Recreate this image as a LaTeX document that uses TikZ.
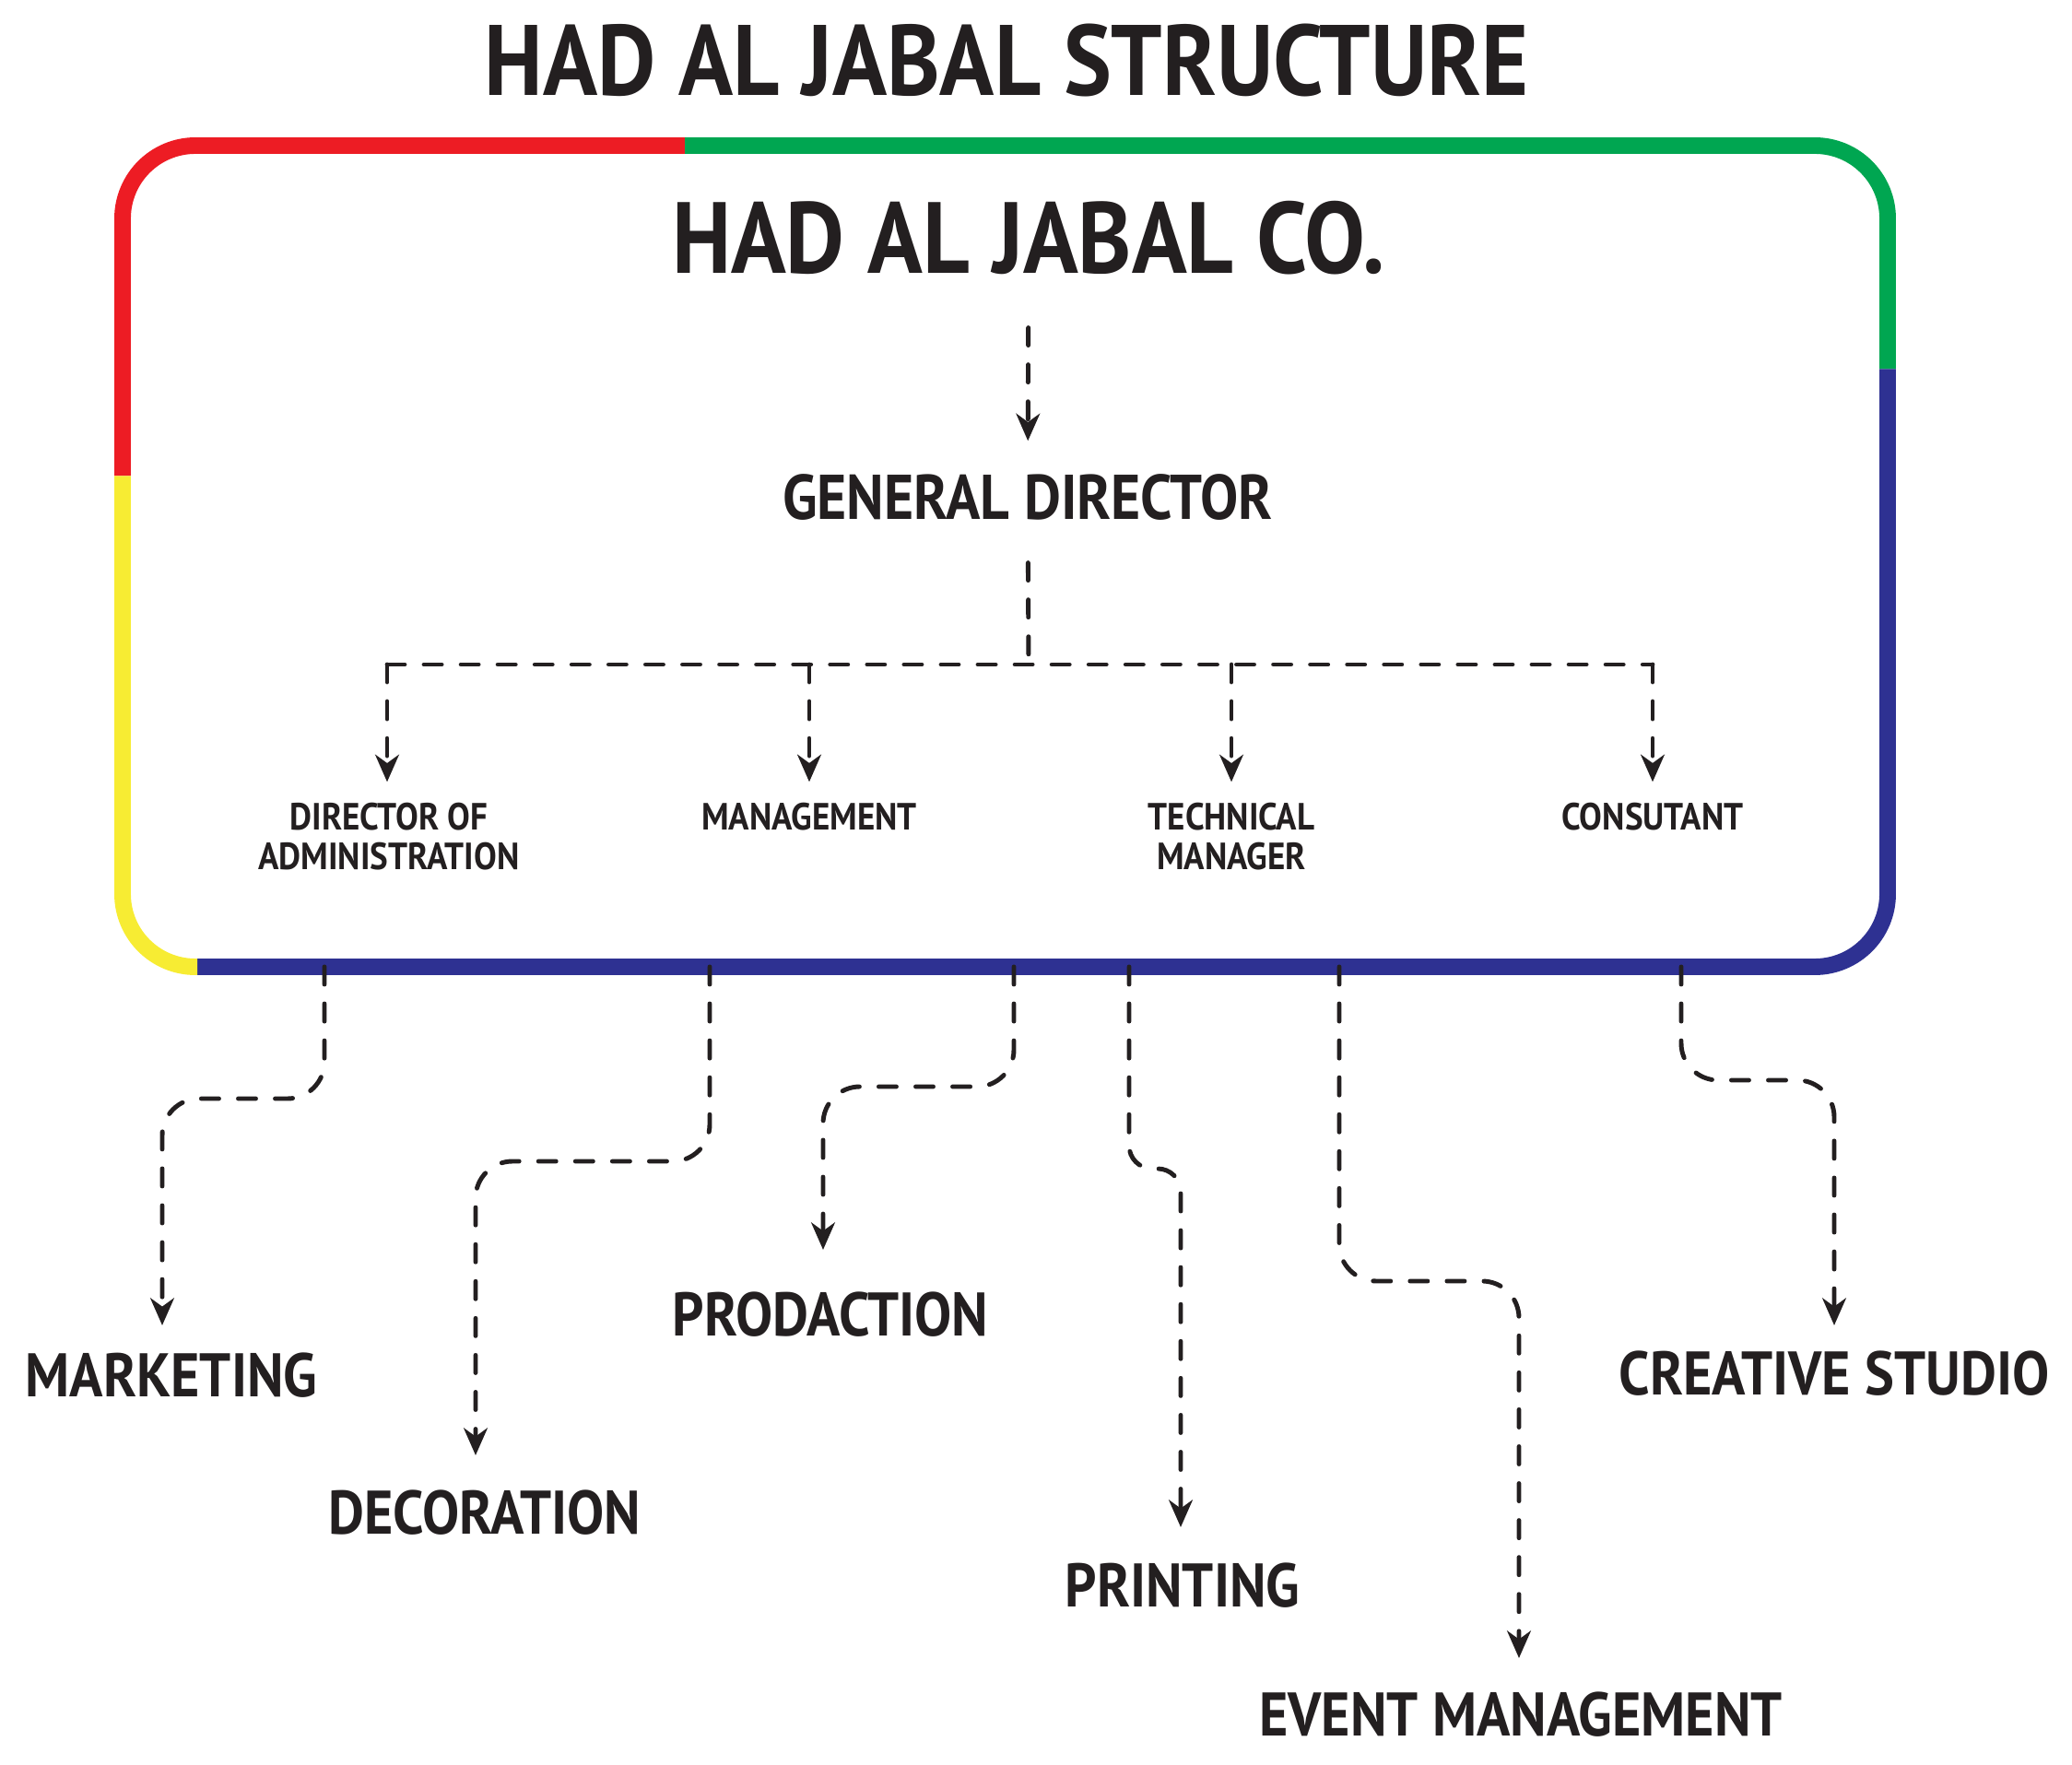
\documentclass[tikz,border=0pt]{standalone}
\usepackage{fontspec}
\setmainfont{PT Sans}[FakeStretch=0.9]
\usetikzlibrary{arrows.meta, positioning}

\definecolor{hadred}{HTML}{ED1C24}
\definecolor{hadgreen}{HTML}{00A651}
\definecolor{hadblue}{HTML}{2E3192}
\definecolor{hadyellow}{HTML}{F7EC33}
\definecolor{ink}{HTML}{231F20}

\tikzset{
  frame/.style={line width=5.1pt, rounded corners=0.79cm},
  link/.style={ink, line width=1.4pt, line cap=round, dash pattern=on 5.4pt off 6pt, rounded corners=0.4cm},
  tip/.style={-{Stealth[length=8.4pt,width=7.3pt,inset=2.6pt]}},
  head/.style={font=\bfseries\fontsize{30.9}{36}\selectfont, text=ink, inner sep=0pt},
  boss/.style={font=\bfseries\fontsize{19.5}{23}\selectfont, text=ink, inner sep=0pt},
  unit/.style={font=\bfseries\fontsize{11.7}{12.2}\selectfont, text=ink, inner sep=0pt, align=center},
  dept/.style={font=\bfseries\fontsize{19}{22}\selectfont, text=ink, inner sep=0pt}
}

\begin{document}
\begin{tikzpicture}
\useasboundingbox (0,0) rectangle (22.48,-19.15);
%frame
\draw[frame,hadred] (1.33,-5.165) -- (1.33,-1.58) -- (7.43,-1.58);
\draw[frame,hadgreen] (7.43,-1.58) -- (20.48,-1.58) -- (20.48,-4.005);
\draw[frame,hadblue] (20.48,-4.005) -- (20.48,-10.49) -- (2.14,-10.49);
\draw[frame,hadyellow] (1.33,-5.165) -- (1.33,-10.49) -- (2.14,-10.49);
%titles
\node[head] (title) at (10.92,-0.66) {HAD AL JABAL STRUCTURE};
\node[head,font=\bfseries\fontsize{31.2}{36}\selectfont] (co) at (11.16,-2.58) {HAD AL JABAL CO.};
\node[boss] (gd) at (11.15,-5.40) {GENERAL DIRECTOR};
%second row
\node[unit] (dir) at (4.22,-9.075) {DIRECTOR OF\\ADMINISTRATION};
\node[unit] (mgt) at (8.78,-8.86) {MANAGEMENT};
\node[unit] (tech) at (13.36,-9.075) {TECHNICAL\\MANAGER};
\node[unit] (cons) at (17.93,-8.86) {CONSUTANT};
\coordinate (split) at (11.16,-7.21);
\coordinate (hl) at (4.20,-7.21);
\coordinate (hr) at (17.93,-7.21);
\draw[link,tip,shorten <=0.57cm,shorten >=0.36cm] (co) -- (gd);
\draw[link,shorten <=0.45cm] (gd) -- (split);
\draw[link] (hl) -- (hr);
\draw[link,tip,shorten >=0.22cm] (hl) -- (hl |- dir.north);
\draw[link,tip,shorten >=0.22cm] (mgt |- hl) -- (mgt);
\draw[link,tip,shorten >=0.22cm] (tech |- hl) -- (tech);
\draw[link,tip,shorten >=0.22cm] (cons |- hl) -- (cons);
%departments
\node[dept] (mk) at (1.86,-14.92) {MARKETING};
\node[dept] (dec) at (5.26,-16.41) {DECORATION};
\node[dept] (prod) at (9.01,-14.26) {PRODACTION};
\node[dept] (prn) at (12.83,-17.20) {PRINTING};
\node[dept] (evt) at (16.50,-18.60) {EVENT MANAGEMENT};
\node[dept] (cre) at (19.90,-14.90) {CREATIVE STUDIO};
\coordinate (b1) at (3.52,-10.49);
\coordinate (b2) at (7.70,-10.49);
\coordinate (b3) at (11.00,-10.49);
\coordinate (b4) at (12.25,-10.49);
\coordinate (b5) at (14.53,-10.49);
\coordinate (b6) at (18.24,-10.49);
\draw[link,tip,shorten >=0.29cm] (b1) -- ++(0,-1.43) -| ([xshift=-0.10cm]mk.north);
\draw[link,tip,shorten >=0.37cm] (b2) -- ++(0,-2.11) -| ([xshift=-0.10cm]dec.north);
\draw[link,tip,shorten >=0.45cm] (b3) -- ++(0,-1.30) -| ([xshift=-0.08cm]prod.north);
\draw[link,tip,shorten >=0.38cm,rounded corners=0.25cm] (b4) -- ++(0,-2.19) -| ([xshift=-0.02cm]prn.north);
\draw[link,tip,shorten >=0.36cm] (b5) -- ++(0,-3.41) -| ([xshift=-0.02cm]evt.north);
\draw[link,tip,shorten >=0.27cm] (b6) -- ++(0,-1.23) -| (cre);
\end{tikzpicture}
\end{document}
